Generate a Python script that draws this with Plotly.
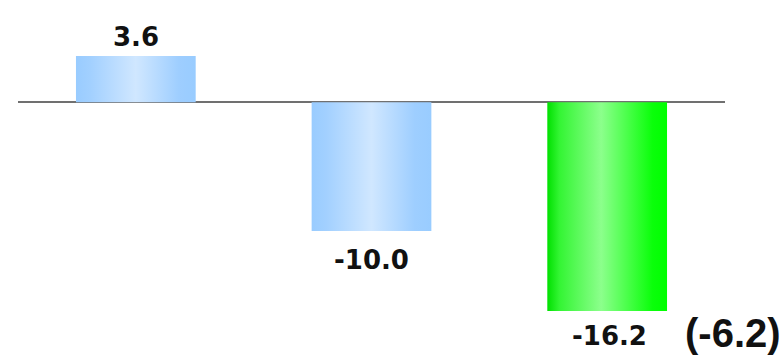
import plotly.graph_objects as go

# Chart data
categories = ["A", "B", "C"]
values = [3.6, -10.0, -16.2]
label_text = ["3.6", "-10.0", "-16.2"]

# Horizontal gradient stops for each bar (position, colour)
blue_scale = [[0.0, "#99CCFF"], [0.12, "#A2D0FF"], [0.5, "#D0E7FF"],
              [0.86, "#9ECEFF"], [1.0, "#99CCFF"]]
green_scale = [[0.0, "#00E000"], [0.1, "#33F533"], [0.45, "#8CFF8C"],
               [0.88, "#0AFF0A"], [1.0, "#00FF00"]]
bar_scales = [blue_scale, blue_scale, green_scale]

BAR_WIDTH = 0.508

fig = go.Figure()

for i, (cat, v) in enumerate(zip(categories, values)):
    x0, x1 = i - BAR_WIDTH / 2, i + BAR_WIDTH / 2
    fig.add_trace(go.Scatter(
        x=[x0, x1, x1, x0, x0],
        y=[0, 0, v, v, 0],
        mode="lines",
        line=dict(width=0),
        fill="toself",
        fillgradient=dict(type="horizontal", colorscale=bar_scales[i]),
        hoverinfo="skip",
        showlegend=False,
    ))

# Value labels above positive bars, below negative bars
label_font = dict(family="DejaVu Sans", size=26, color="#111111")
shifts = [19, -29, -25]
for i, v in enumerate(values):
    fig.add_annotation(
        x=i, y=v, text=f"<b>{label_text[i]}</b>",
        showarrow=False, yshift=shifts[i], xshift=2 if i == 2 else 0,
        font=label_font, xanchor="center", yanchor="middle",
    )

# Difference between the last two bars
diff = values[2] - values[1]
fig.add_annotation(
    xref="paper", x=1.012, y=values[2], text=f"<b>({diff:.1f})</b>",
    showarrow=False, yshift=-22,
    font=dict(family="Liberation Sans", size=40, color="#111111"),
    xanchor="center", yanchor="middle",
)

fig.update_layout(
    width=784, height=355,
    margin=dict(l=18, r=59, t=25, b=8),
    paper_bgcolor="white", plot_bgcolor="white",
    xaxis=dict(range=[-0.5, 2.5], visible=False, fixedrange=True),
    yaxis=dict(range=[-19, 6], showgrid=False, showticklabels=False,
               zeroline=True, zerolinecolor="#707070", zerolinewidth=1.5,
               fixedrange=True),
)

fig.write_html("out.html")
